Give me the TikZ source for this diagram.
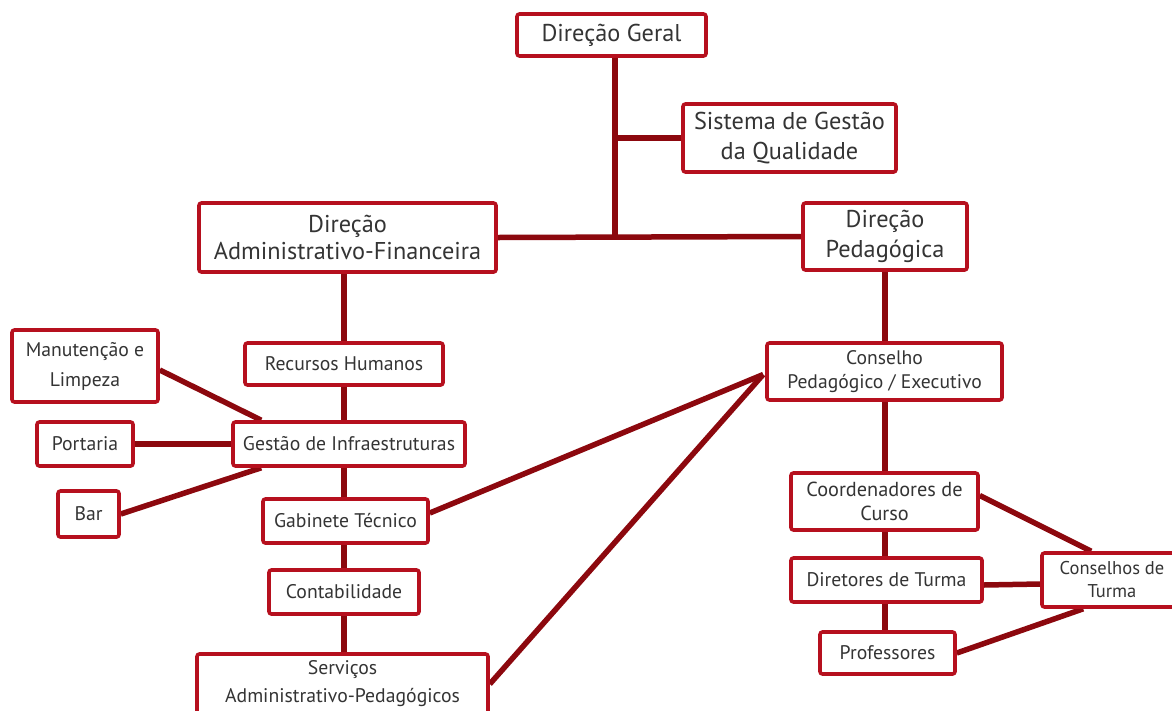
\documentclass[tikz,border=0pt]{standalone}
\usepackage{fontspec}
\setmainfont{PT Sans}
\usetikzlibrary{calc}
\pgfdeclarelayer{bg}
\pgfsetlayers{bg,main}
\definecolor{boxred}{RGB}{182,16,30}
\definecolor{linered}{RGB}{140,8,14}
\definecolor{txt}{RGB}{52,52,52}
\tikzset{
  box/.style={draw=boxred, line width=3.6pt, rounded corners=2.5pt, fill=white,
    text=txt, align=center, inner sep=0pt},
  big/.style={box, font=\fontsize{24.3}{29.5}\selectfont},
  small/.style={box, font=\fontsize{19.7}{30}\selectfont},
  tight/.style={box, font=\fontsize{20.3}{24.5}\selectfont},
  conn/.style={draw=linered, line width=5.5pt}
}
\begin{document}
\begin{tikzpicture}[x=1pt,y=-1pt]
\useasboundingbox (0,0) rectangle (1172,710);
\clip (0,0) rectangle (1172,710);
% top
\node[big, minimum width=189, minimum height=42] (dg) at (611.5,35) {Direção Geral};
\node[big, minimum width=213, minimum height=68] (sgq) at (789.5,138) {Sistema de Gestão\\da Qualidade};
\node[big, font=\fontsize{24.3}{27}\selectfont, minimum width=297, minimum height=69] (daf) at (347.5,237.5) {Direção\\Administrativo-Financeira};
\node[big, minimum width=164, minimum height=67] (dp) at (885,236.5) {Direção\\Pedagógica};
% left column
\node[small, minimum width=198, minimum height=42] (rh) at (344,364) {Recursos Humanos};
\node[small, minimum width=232, minimum height=44] (gi) at (349,444) {Gestão de Infraestruturas};
\node[small, minimum width=146, minimum height=72] (ml) at (85,366) {Manutenção e\\Limpeza};
\node[small, minimum width=96, minimum height=44] (por) at (85,444) {Portaria};
\node[small, minimum width=61, minimum height=46] (bar) at (88.5,514) {Bar};
\node[small, minimum width=165, minimum height=44] (gt) at (345.5,521) {Gabinete Técnico};
\node[small, minimum width=150, minimum height=44] (cont) at (344,592) {Contabilidade};
\node[small, font=\fontsize{19.7}{28}\selectfont, minimum width=291, minimum height=60] (sap) at (342.5,684) {Serviços\\Administrativo-Pedagógicos};
% right column
\node[tight, font=\fontsize{19.6}{24.5}\selectfont, minimum width=235, minimum height=57] (cpe) at (884.5,371.5) {Conselho\\Pedagógico / Executivo};
\node[tight, minimum width=187, minimum height=57] (cc) at (884.5,501.5) {Coordenadores de\\Curso};
\node[small, minimum width=191, minimum height=44] (dt) at (886.5,580) {Diretores de Turma};
\node[small, minimum width=135, minimum height=42] (prof) at (887.5,653) {Professores};
\node[box, font=\fontsize{18.5}{23}\selectfont, minimum width=140, minimum height=54] (ct) at (1112,580) {Conselhos de\\Turma};
% connectors
\begin{pgfonlayer}{bg}
\coordinate (hub) at ($(dg.south)+(3.5,0)$);
\draw[conn] (hub) -- (hub |- daf.east);
\draw[conn] (hub |- sgq.west) -- (sgq.west);
\draw[conn] (daf.east) -- (dp.west);
\draw[conn] (rh.north |- daf.south) -- (rh.north |- sap.north);
\draw[conn] (dp.south) -- (dp.south |- prof.north);
\draw[conn] ($(ml.east)+(0,4)$) -- ($(gi.north west)+(30,0)$);
\draw[conn] (por.east) -- (gi.west);
\draw[conn] (bar.east) -- ($(gi.south west)+(30,0)$);
\draw[conn] ($(gt.east)+(0,-8)$) -- ($(cpe.west)+(-2,3)$);
\draw[conn] (sap.east) -- ($(cpe.west)+(-2,3)$);
\draw[conn] ($(cc.east)+(0,-6)$) -- ($(ct.north west)+(51,0)$);
\draw[conn] ($(dt.east)+(0,5)$) -- ($(ct.west)+(0,4)$);
\draw[conn] (prof.east) -- ($(ct.south west)+(43,0)$);
\end{pgfonlayer}
\end{tikzpicture}
\end{document}
